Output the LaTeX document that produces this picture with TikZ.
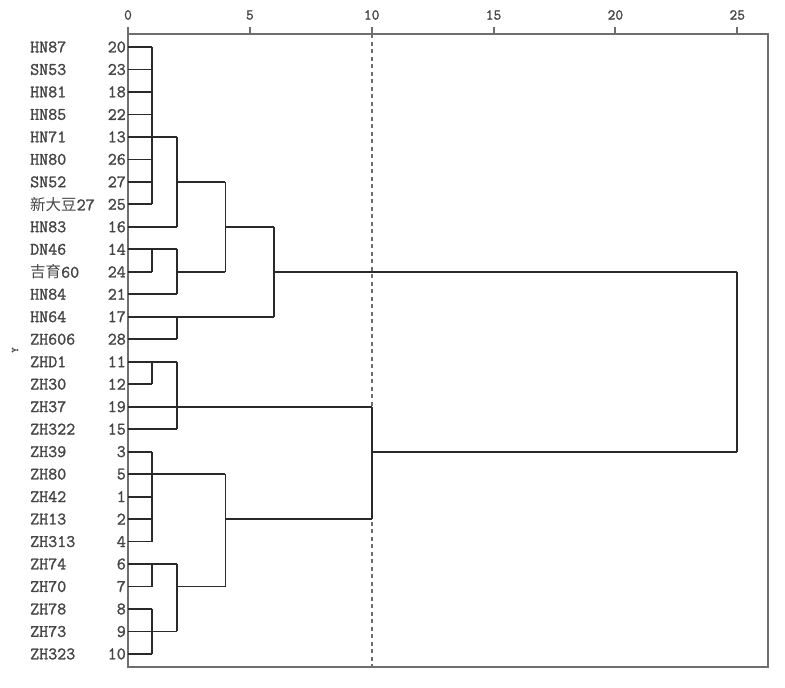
\documentclass[tikz,border=0pt]{standalone}
\usepackage{fontspec}
\setmonofont{Latin Modern Mono}[FakeBold=1.5]
\newfontfamily\cjk{Noto Sans CJK SC}
\definecolor{txt}{HTML}{454545}
\definecolor{lnk}{HTML}{2A2A2A}
\definecolor{frm}{HTML}{6E6E6E}
\newcommand\ry[1]{47+(#1-1)*22.48}
\newcommand\leaf[3]{%
  \coordinate (L#1) at (128,{\ry{#1}});
  \node[lbl] (N#1) at (30,{\ry{#1}}) {#2};
  \node[num] (K#1) at (126,{\ry{#1}}) {#3};}
\begin{document}
\begin{tikzpicture}[x=1pt,y=-1pt,
  lbl/.style={font=\ttfamily\fontsize{17.5}{17.5}\selectfont, text=txt, inner sep=0pt, anchor=west},
  num/.style={font=\ttfamily\fontsize{17.5}{17.5}\selectfont, text=txt, inner sep=0pt, anchor=east},
  tick/.style={font=\ttfamily\fontsize{15}{15}\selectfont, text=txt, inner sep=0pt},
  link/.style={draw=lnk, line width=1.8pt},
  frame/.style={draw=frm, line width=2pt},
  cut/.style={draw=frm, line width=2pt, dash pattern=on 4pt off 3.5pt}]
\useasboundingbox (0,0) rectangle (785,688);
% frame and axis
\coordinate (ftl) at (128,34);
\coordinate (fbr) at (768,667);
\draw[frame] (ftl) rectangle (fbr);
\foreach \v in {0,5,10,15,20,25}{
  \coordinate (t\v) at ({128+\v*24.37},34);
  \draw[frame] (t\v) -- ++(0,-7);
  \node[tick] (tl\v) at ({128+\v*24.37},15) {\v};
}
\draw[cut] (t10) -- (t10 |- fbr);
\node[font=\ttfamily\fontsize{10}{10}\selectfont, text=txt, rotate=90, inner sep=0pt] (ylab) at (15,350) {Y};
% leaves
\leaf{1}{HN87}{20}
\leaf{2}{SN53}{23}
\leaf{3}{HN81}{18}
\leaf{4}{HN85}{22}
\leaf{5}{HN71}{13}
\leaf{6}{HN80}{26}
\leaf{7}{SN52}{27}
\leaf{8}{{\cjk\fontsize{15.5}{15.5}\selectfont 新大豆}27}{25}
\leaf{9}{HN83}{16}
\leaf{10}{DN46}{14}
\leaf{11}{{\cjk\fontsize{15.5}{15.5}\selectfont 吉育}60}{24}
\leaf{12}{HN84}{21}
\leaf{13}{HN64}{17}
\leaf{14}{ZH606}{28}
\leaf{15}{ZHD1}{11}
\leaf{16}{ZH30}{12}
\leaf{17}{ZH37}{19}
\leaf{18}{ZH322}{15}
\leaf{19}{ZH39}{3}
\leaf{20}{ZH80}{5}
\leaf{21}{ZH42}{1}
\leaf{22}{ZH13}{2}
\leaf{23}{ZH313}{4}
\leaf{24}{ZH74}{6}
\leaf{25}{ZH70}{7}
\leaf{26}{ZH78}{8}
\leaf{27}{ZH73}{9}
\leaf{28}{ZH323}{10}
% merge points
\coordinate (a1) at (152.37,{\ry{5}});
\coordinate (a2) at (176.74,{\ry{7}});
\coordinate (b1) at (152.37,{\ry{10}});
\coordinate (b2) at (176.74,{\ry{11}});
\coordinate (a3) at (225.48,{\ry{9}});
\coordinate (c1) at (176.74,{\ry{13}});
\coordinate (tp) at (274.22,{\ry{11}});
\coordinate (d1) at (152.37,{\ry{15}});
\coordinate (d2) at (176.74,{\ry{17}});
\coordinate (e1) at (152.37,{\ry{20}});
\coordinate (f1) at (152.37,{\ry{24}});
\coordinate (f2) at (152.37,{\ry{27}});
\coordinate (f3) at (176.74,{\ry{25}});
\coordinate (e3) at (225.48,{\ry{22}});
\coordinate (m) at (371.7,{\ry{19}});
\coordinate (rt) at (737.25,{\ry{11}});
% links
\foreach \i in {1,...,8}{\draw[link] (L\i) -- (L\i -| a1);}
\draw[link] (a1 |- L1) -- (a1 |- L8);
\draw[link] (a1) -- (a1 -| a2);
\draw[link] (L9) -- (L9 -| a2);
\draw[link] (a2 |- a1) -- (a2 |- L9);
\foreach \i in {10,11}{\draw[link] (L\i) -- (L\i -| b1);}
\draw[link] (b1 |- L10) -- (b1 |- L11);
\draw[link] (b1) -- (b1 -| b2);
\draw[link] (L12) -- (L12 -| b2);
\draw[link] (b2 |- b1) -- (b2 |- L12);
\draw[link] (a2) -- (a2 -| a3);
\draw[link] (b2) -- (b2 -| a3);
\draw[link] (a3 |- a2) -- (a3 |- b2);
\foreach \i in {13,14}{\draw[link] (L\i) -- (L\i -| c1);}
\draw[link] (c1 |- L13) -- (c1 |- L14);
\draw[link] (a3) -- (a3 -| tp);
\draw[link] (c1) -- (c1 -| tp);
\draw[link] (tp |- a3) -- (tp |- c1);
\foreach \i in {15,16}{\draw[link] (L\i) -- (L\i -| d1);}
\draw[link] (d1 |- L15) -- (d1 |- L16);
\draw[link] (d1) -- (d1 -| d2);
\draw[link] (L17) -- (L17 -| d2);
\draw[link] (L18) -- (L18 -| d2);
\draw[link] (d2 |- d1) -- (d2 |- L18);
\foreach \i in {19,...,23}{\draw[link] (L\i) -- (L\i -| e1);}
\draw[link] (e1 |- L19) -- (e1 |- L23);
\foreach \i in {24,25}{\draw[link] (L\i) -- (L\i -| f1);}
\draw[link] (f1 |- L24) -- (f1 |- L25);
\foreach \i in {26,27,28}{\draw[link] (L\i) -- (L\i -| f2);}
\draw[link] (f2 |- L26) -- (f2 |- L28);
\draw[link] (f1) -- (f1 -| f3);
\draw[link] (f2) -- (f2 -| f3);
\draw[link] (f3 |- f1) -- (f3 |- f2);
\draw[link] (e1) -- (e1 -| e3);
\draw[link] (f3) -- (f3 -| e3);
\draw[link] (e3 |- e1) -- (e3 |- f3);
\draw[link] (d2) -- (d2 -| m);
\draw[link] (e3) -- (e3 -| m);
\draw[link] (m |- d2) -- (m |- e3);
\draw[link] (tp) -- (tp -| rt);
\draw[link] (m) -- (m -| rt);
\draw[link] (rt |- tp) -- (rt |- m);
\end{tikzpicture}
\end{document}
